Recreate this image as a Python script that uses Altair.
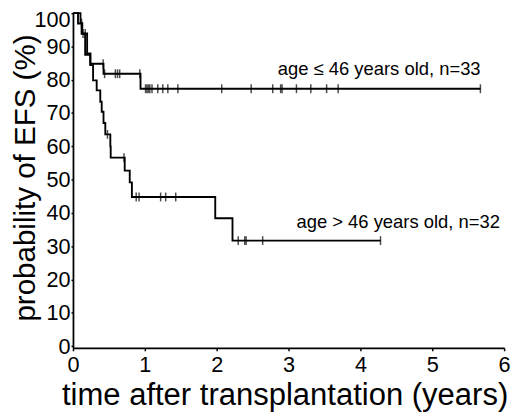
import altair as alt
import pandas as pd

# Kaplan-Meier step data (years, % EFS)
times_young = [0, 0.105, 0.13, 0.197, 0.243, 0.425, 0.94, 5.67]
surv_young = [100, 97.0, 93.9, 87.9, 84.8, 81.8, 77.3, 77.3]

times_old = [0, 0.07, 0.12, 0.17, 0.24, 0.28, 0.33, 0.38, 0.40, 0.425, 0.45,
             0.52, 0.525, 0.72, 0.79, 0.82, 1.98, 2.22, 4.28]
surv_old = [100, 96.9, 93.8, 87.5, 84.4, 79.8, 76.8, 73.4, 70.4, 67.0, 63.6,
            60.0, 56.6, 52.7, 49.2, 44.8, 38.4, 31.7, 31.7]

# censored observations
cens_young_t = [0.12, 0.14, 0.17, 0.42, 0.44, 0.59, 0.62, 0.65, 0.93,
                1.01, 1.03, 1.05, 1.07, 1.10, 1.18, 1.25, 1.32, 1.46, 2.07,
                2.48, 2.78, 2.89, 2.91, 3.11, 3.31, 3.53, 3.69, 5.67]
cens_young_s = [97.0, 93.9, 93.9, 84.8, 81.8, 81.8, 81.8, 81.8, 81.8] + [77.3] * 19

cens_old_t = [0.48, 0.71, 0.88, 0.92, 1.22, 1.29, 1.43, 2.30, 2.39, 2.41, 2.64, 4.28]
cens_old_s = [63.6, 56.6, 44.8, 44.8, 44.8, 44.8, 44.8, 31.7, 31.7, 31.7, 31.7, 31.7]

x_ticks = [0, 1, 2, 3, 4, 5, 6]
y_ticks = [0, 10, 20, 30, 40, 50, 60, 70, 80, 90, 100]

labels = ["age \u2264 46 years old, n=33", "age > 46 years old, n=32"]
label_t = [2.85, 3.11]
label_s = [81.3, 35.5]

steps = pd.concat([
    pd.DataFrame({"t": times_young, "s": surv_young, "g": "young"}),
    pd.DataFrame({"t": times_old, "s": surv_old, "g": "old"}),
])
cens = pd.concat([
    pd.DataFrame({"t": cens_young_t, "s": cens_young_s, "g": "young"}),
    pd.DataFrame({"t": cens_old_t, "s": cens_old_s, "g": "old"}),
])
lab = pd.DataFrame({"t": label_t, "s": label_s, "label": labels})

FONT = "Liberation Sans"

xscale = alt.Scale(domain=[0, 6], nice=False, zero=False)
yscale = alt.Scale(domain=[-0.5, 100], nice=False, zero=False)

xaxis = alt.Axis(values=x_ticks, format="d",
                 title="time after transplantation (years)",
                 labelFontSize=22, tickSize=3, labelPadding=4, grid=False,
                 labelFlush=False, labelOverlap=False,
                 titleFontSize=31.5, titleFontWeight="normal", titleX=215, titleY=58,
                 titleBaseline="alphabetic", titleAlign="center")
yaxis = alt.Axis(values=y_ticks, format="d",
                 title="probability of EFS (%)",
                 labelFontSize=22, tickSize=2, labelPadding=1, grid=False,
                 labelFlush=False, labelOverlap=False,
                 labelOffset=alt.condition("datum.value == 100", alt.value(7), alt.value(0)),
                 titleFontSize=30, titleFontWeight="normal", titleX=-33, titleY=167,
                 titleAngle=-90, titleBaseline="bottom", titleAlign="center")

X = alt.X("t:Q", scale=xscale, axis=xaxis)
Y = alt.Y("s:Q", scale=yscale, axis=yaxis)

lines = alt.Chart(steps).mark_line(interpolate="step-after", color="black",
                                   strokeWidth=1.9).encode(x=X, y=Y, detail="g:N")

ticks = alt.Chart(cens).mark_tick(orient="vertical", color="black", size=9,
                                  thickness=1.5).encode(x=X, y=Y)

texts = alt.Chart(lab).mark_text(align="left", baseline="alphabetic", fontSize=18.7,
                                 font=FONT, color="black").encode(
    x=X, y=Y, text="label:N",
)

chart = alt.layer(lines, ticks, texts).properties(
    width=438, height=340,
    autosize=alt.AutoSizeParams(type="none"),
    padding={"left": 66, "top": 2, "right": 8, "bottom": 64},
).configure_view(stroke=None).configure_axis(
    labelFont=FONT, titleFont=FONT, labelColor="black", titleColor="black",
    domainColor="black", tickColor="black", domainWidth=1.8, tickWidth=1.5,
)

chart.save("out.html", embed_options={"renderer": "svg", "actions": False})
